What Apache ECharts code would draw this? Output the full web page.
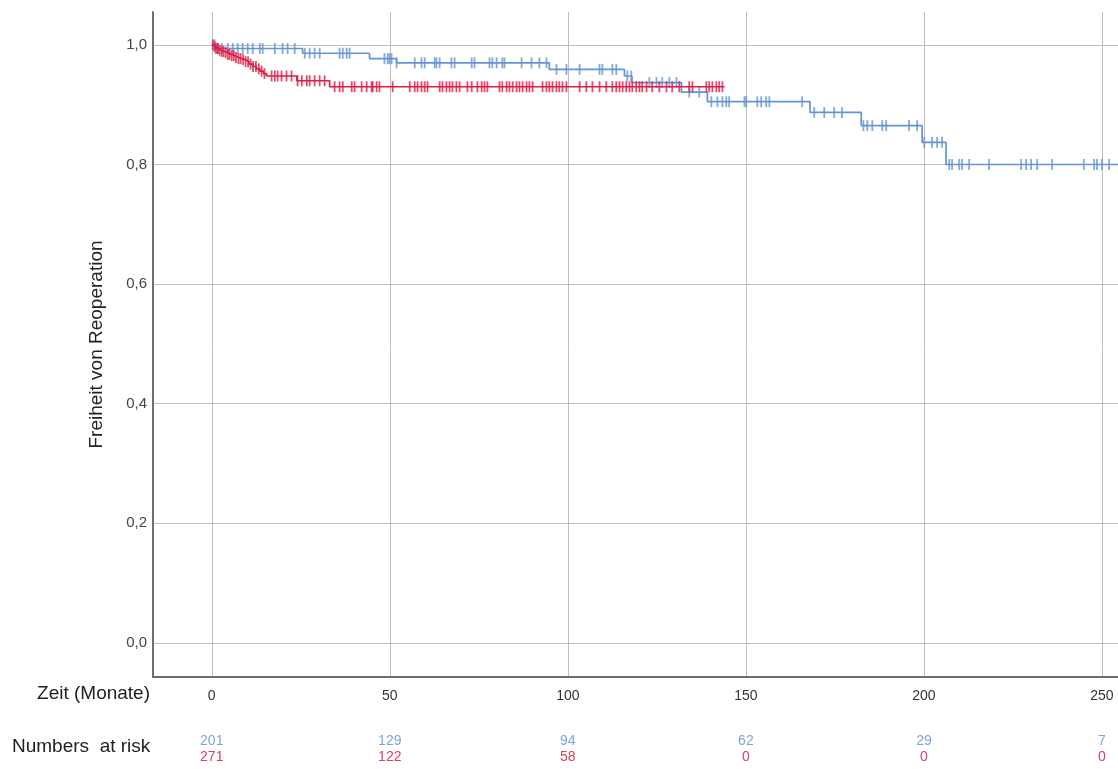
<!DOCTYPE html>
<html>
<head>
<meta charset="utf-8">
<script src="https://cdn.jsdelivr.net/npm/echarts@6/dist/echarts.min.js"></script>
<style>html,body{margin:0;padding:0;background:#fff}#c{width:1118px;height:769px}</style>
</head>
<body>
<div id="c"></div>
<script>
// Kaplan-Meier step data (time in months, survival)
const blueTimes = [0, 1, 25.5, 44.3, 51.9, 94.8, 115.9, 118.0, 131.9, 139.2, 168.0, 182.4, 199.5, 206.2];
const blueSurv  = [1.0, 0.994, 0.986, 0.977, 0.970, 0.959, 0.948, 0.937, 0.921, 0.905, 0.887, 0.865, 0.837, 0.800];
const blueEnd = 254.5;
const blueCensor = [0.8, 1.7, 2.8, 4.5, 5.9, 7.3, 8.7, 10.1, 11.5, 13.5, 14.3, 17.7, 19.9, 21.3, 23.3,
  26.1, 27.5, 28.9, 30.3, 35.9, 36.8, 37.9, 38.7, 48.5, 49.4, 49.9, 50.5, 51.9,
  57.0, 58.9, 59.8, 62.6, 63.1, 64.0, 67.3, 68.2, 73.0, 73.8, 78.0, 78.8, 80.0, 81.6, 82.2, 87.0, 89.8, 92.0, 94.0,
  96.8, 99.6, 103.3, 108.9, 109.7, 112.5, 113.6, 116.7, 117.8, 122.9, 124.9, 126.5, 128.5, 130.5,
  134.1, 136.9, 140.3, 142.0, 143.4, 144.5, 145.3, 149.6, 150.1, 153.2, 154.3, 155.7, 156.6, 165.8,
  169.2, 172.0, 174.8, 177.0, 183.0, 184.1, 185.5, 188.3, 189.4, 195.8, 198.1,
  200.1, 202.3, 203.7, 205.1, 207.1, 207.9, 209.9, 210.7, 212.7, 218.3, 227.3, 228.7, 230.1, 231.8, 236.0,
  244.9, 247.8, 248.6, 250.0, 252.0];

const redTimes = [0, 0.5, 1.2, 2.0, 2.8, 3.6, 4.5, 5.5, 6.5, 7.5, 8.5, 9.5, 10.5, 11.5, 12.5, 13.5, 14.5, 15.4, 23.9, 33.1];
const redSurv  = [1.0, 0.997, 0.994, 0.991, 0.989, 0.987, 0.984, 0.982, 0.979, 0.977, 0.975, 0.972, 0.968, 0.964, 0.960, 0.956, 0.952, 0.948, 0.940, 0.930];
const redEnd = 144;
const redCensor = [0.3, 0.8, 1.2, 1.7, 2.2, 2.8, 3.3, 3.9, 4.5, 5.0, 5.6, 6.2, 6.8, 7.5, 8.1, 8.8, 9.5, 10.2, 10.9, 11.6, 12.4, 13.2, 14.0, 14.8,
  16.8, 17.7, 18.5, 19.6, 21.0, 22.4, 24.1, 25.3, 26.7, 27.5, 28.9, 30.3, 31.7, 34.5, 35.9, 36.8, 39.3, 40.1, 42.1, 43.5, 44.9,
  45.2, 46.3, 47.1, 50.8, 55.6, 57.0, 57.8, 58.9, 59.8, 60.6, 64.0, 64.8, 65.9, 66.8, 67.6, 68.7, 69.6, 71.8, 73.0, 74.6, 75.8, 76.6, 77.4,
  80.8, 81.6, 82.8, 83.6, 84.5, 85.6, 86.4, 87.3, 88.4, 89.2, 90.1, 92.9, 94.0, 94.8, 95.7, 96.8, 97.6, 98.5, 99.6,
  103.3, 105.2, 106.9, 108.9, 110.8, 112.5, 113.6, 114.5, 115.4, 116.4, 117.3, 118.1, 119.2, 120.1, 120.9, 122.1, 123.7, 125.7, 127.7, 129.3, 131.3,
  134.1, 135.0, 138.9, 139.7, 140.6, 141.7, 142.5, 143.4];

// Numbers at risk
const riskTimes = [0, 50, 100, 150, 200, 250];
const riskBlue = [201, 129, 94, 62, 29, 7];
const riskRed  = [271, 122, 58, 0, 0, 0];

const xMin = -16.5, xMax = 254.5, yMin = -0.057, yMax = 1.055;
const BLUE = '#6495d2', RED = '#dc1e46';

function stepLine(T, S, end) {
  const pts = [];
  for (let i = 0; i < T.length; i++) {
    if (i > 0) pts.push([T[i], S[i - 1]]);
    pts.push([T[i], S[i]]);
  }
  pts.push([end, S[S.length - 1]]);
  return pts;
}
function survAt(T, S, t) {
  let s = S[0];
  for (let i = 0; i < T.length; i++) if (T[i] <= t) s = S[i];
  return s;
}
const font = 'Liberation Sans, Arial, sans-serif';

const chart = echarts.init(document.getElementById('c'));
chart.setOption({
  animation: false,
  backgroundColor: '#fff',
  grid: { left: 153, top: 12, right: 0, bottom: 92, containLabel: false },
  xAxis: [{
    type: 'value', min: xMin, max: xMax,
    axisLine: { show: true, onZero: false, lineStyle: { color: '#6e6e6e', width: 2 } },
    axisTick: { show: false },
    axisLabel: { showMinLabel: false, showMaxLabel: false, margin: 12, fontSize: 14, color: '#333', fontFamily: font },
    splitLine: { show: true, showMinLine: false, showMaxLine: false, lineStyle: { color: '#bdbdbd', width: 1 } }
  }, {
    type: 'value', min: xMin, max: xMax, position: 'bottom',
    axisLine: { show: false }, axisTick: { show: false }, splitLine: { show: false },
    axisLabel: {
      showMinLabel: false, showMaxLabel: false, margin: 56, fontFamily: font,
      formatter: function (v) {
        const i = riskTimes.indexOf(v);
        if (i < 0) return '';
        return '{b|' + riskBlue[i] + '}\n{r|' + riskRed[i] + '}';
      },
      rich: {
        b: { color: '#7ea4d8', fontSize: 14, lineHeight: 16, fontFamily: font },
        r: { color: '#d9405e', fontSize: 14, lineHeight: 16, fontFamily: font }
      }
    }
  }],
  yAxis: {
    type: 'value', min: yMin, max: yMax,
    name: 'Freiheit von Reoperation', nameLocation: 'middle', nameGap: 47,
    nameTextStyle: { fontSize: 19, color: '#222', fontFamily: font },
    axisLine: { show: true, onZero: false, lineStyle: { color: '#6e6e6e', width: 2 } },
    axisTick: { show: false },
    axisLabel: {
      showMinLabel: false, showMaxLabel: false, margin: 6, fontSize: 15, color: '#444', fontFamily: font,
      formatter: v => v.toFixed(1).replace('.', ',')
    },
    splitLine: { show: true, showMinLine: false, showMaxLine: false, lineStyle: { color: '#bdbdbd', width: 1 } }
  },
  graphic: [
    { type: 'text', right: 1118 - 150, top: 684, style: { text: 'Zeit (Monate)', fontSize: 19, fill: '#222', fontFamily: font } },
    { type: 'text', left: 12, top: 737, style: { text: 'Numbers  at risk', fontSize: 19, fill: '#222', fontFamily: font } }
  ],
  series: [
    { type: 'line', data: stepLine(blueTimes, blueSurv, blueEnd), showSymbol: false, symbol: 'none',
      lineStyle: { color: BLUE, width: 1.7 }, z: 2 },
    { type: 'scatter', data: blueCensor.map(t => [t, survAt(blueTimes, blueSurv, t)]), symbol: 'rect', symbolSize: [1.8, 11],
      itemStyle: { color: BLUE }, z: 3 },
    { type: 'line', data: stepLine(redTimes, redSurv, redEnd), showSymbol: false, symbol: 'none',
      lineStyle: { color: RED, width: 1.7 }, z: 4 },
    { type: 'scatter', data: redCensor.map(t => [t, survAt(redTimes, redSurv, t)]), symbol: 'rect', symbolSize: [1.8, 11],
      itemStyle: { color: RED }, z: 5 }
  ]
});
</script>
</body>
</html>
